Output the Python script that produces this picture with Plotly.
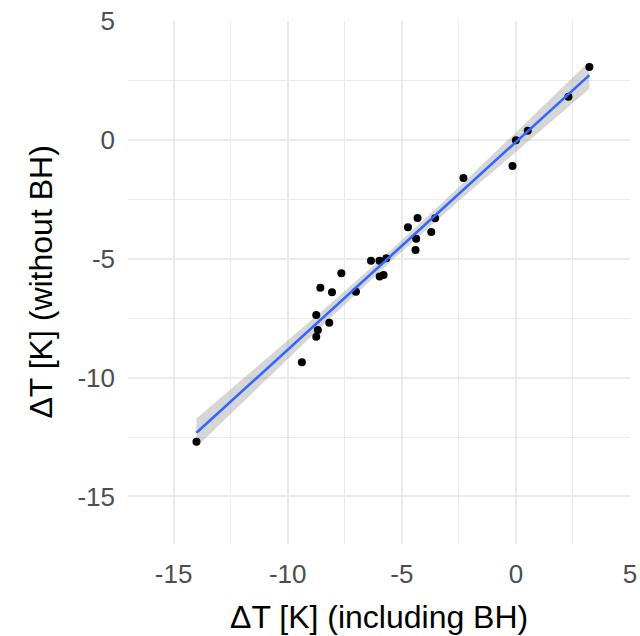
import numpy as np
import plotly.graph_objects as go

# Temperature change with and without the BH term, one point per run
dT_including_bh = [-14.0, -9.38, -8.75, -8.68, -8.18, -8.75, -8.57, -8.06, -7.01,
                   -7.65, -6.35, -5.98, -5.68, -5.97, -5.80, -4.40, -4.37, -3.71,
                   -4.73, -4.31, -3.54, -2.30, -0.15, 0.00, 0.52, 2.30, 3.22]
dT_without_bh = [-12.7, -9.35, -8.28, -8.00, -7.69, -7.37, -6.22, -6.41, -6.39,
                 -5.61, -5.08, -5.08, -4.98, -5.75, -5.68, -4.63, -4.16, -3.88,
                 -3.68, -3.29, -3.30, -1.60, -1.10, -0.02, 0.38, 1.81, 3.07]

tick_vals = [-15, -10, -5, 0, 5]
tick_text = ["-15", "-10", "-5", "0", "5"]
x_title = "ΔT [K] (including BH)"
y_title = "ΔT [K] (without BH)"

x = np.asarray(dT_including_bh)
y = np.asarray(dT_without_bh)

# Ordinary least squares fit with a 95% confidence band
n = len(x)
slope, intercept = np.polyfit(x, y, 1)
resid = y - (slope * x + intercept)
s = np.sqrt(np.sum(resid ** 2) / (n - 2))
sxx = np.sum((x - x.mean()) ** 2)
try:
    from scipy.stats import t as t_dist
    t_crit = t_dist.ppf(0.975, n - 2)
except Exception:
    t_crit = 2.0595  # t(0.975, df=25)

xs = np.linspace(x.min(), x.max(), 80)
ys = slope * xs + intercept
se = s * np.sqrt(1.0 / n + (xs - x.mean()) ** 2 / sxx)
lo = ys - t_crit * se
hi = ys + t_crit * se

fig = go.Figure()
fig.add_trace(go.Scatter(
    x=np.concatenate([xs, xs[::-1]]), y=np.concatenate([hi, lo[::-1]]),
    fill="toself", fillcolor="rgba(153,153,153,0.4)", line=dict(width=0),
    mode="lines", hoverinfo="skip", showlegend=False))
fig.add_trace(go.Scatter(
    x=x, y=y, mode="markers",
    marker=dict(color="black", size=8), showlegend=False))
fig.add_trace(go.Scatter(
    x=xs, y=ys, mode="lines",
    line=dict(color="#3366FF", width=2.6), showlegend=False))

axis_common = dict(
    tickvals=tick_vals, ticktext=tick_text,
    showgrid=True, gridcolor="#EBEBEB", gridwidth=2.2,
    minor=dict(dtick=5, tick0=2.5, showgrid=True, gridcolor="#EBEBEB", gridwidth=1.2),
    zeroline=False, showline=False, ticks="",
    tickfont=dict(family="Liberation Sans, Arial, sans-serif", size=26, color="#4D4D4D"),
    ticklabelstandoff=12, automargin=False,
)

fig.update_layout(
    width=640, height=636,
    margin=dict(l=128, r=10, t=21, b=92, autoexpand=False),
    paper_bgcolor="white", plot_bgcolor="white",
    xaxis=dict(range=[-17, 5], **axis_common),
    yaxis=dict(range=[-17, 5], **axis_common),
    font=dict(family="Liberation Sans, Arial, sans-serif"),
    annotations=[
        dict(text=x_title, xref="paper", yref="paper", x=0.5, y=0,
             yshift=-73, xanchor="center", yanchor="middle", showarrow=False,
             font=dict(size=32, color="black")),
        dict(text=y_title, xref="paper", yref="paper", x=0, y=0.5,
             xshift=-88, xanchor="center", yanchor="middle", showarrow=False,
             textangle=-90, font=dict(size=32, color="black")),
    ],
)

fig.write_html("out.html")
